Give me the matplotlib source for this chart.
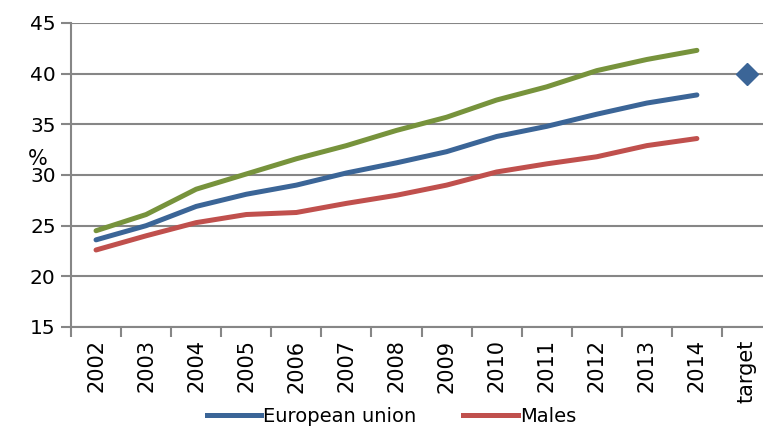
import matplotlib
matplotlib.use("Agg")
import matplotlib.pyplot as plt
import numpy as np
from matplotlib.lines import Line2D

# category labels on the x axis
years = ["2002", "2003", "2004", "2005", "2006", "2007", "2008",
         "2009", "2010", "2011", "2012", "2013", "2014"]
categories = years + ["target"]

# series values (%)
eu = [23.6, 25.0, 26.9, 28.1, 29.0, 30.2, 31.2, 32.3, 33.8, 34.8, 36.0, 37.1, 37.9]
males = [22.6, 24.0, 25.3, 26.1, 26.3, 27.2, 28.0, 29.0, 30.3, 31.1, 31.8, 32.9, 33.6]
females = [24.5, 26.1, 28.6, 30.1, 31.6, 32.9, 34.4, 35.7, 37.4, 38.7, 40.3, 41.4, 42.3]
target = 40

blue = "#3b6597"
red = "#c0504d"
green = "#77933c"
grey = "#868686"

plt.rcParams['font.family'] = ['DejaVu Sans']

fig = plt.figure(figsize=(7.63, 4.30), dpi=100)
ax = fig.add_axes([71 / 763, 1 - 327 / 430, (772 - 71) / 763, (327 - 23) / 430])

x = np.arange(len(years))
ax.plot(x, females, color=green, lw=3.6, solid_capstyle='round', zorder=3)
ax.plot(x, eu, color=blue, lw=3.6, solid_capstyle='round', zorder=3)
ax.plot(x, males, color=red, lw=3.6, solid_capstyle='round', zorder=3)
ax.plot([len(years)], [target], marker='D', color=blue, markersize=11, ls='none', zorder=4)

ax.set_xlim(-0.5, len(categories) - 0.5)
ax.set_ylim(15, 45)
ax.set_yticks(range(15, 46, 5))
ax.set_xticks(np.arange(len(categories)))
ax.set_xticklabels(categories, rotation=90, fontsize=15)
ax.set_xticks(np.arange(len(categories) + 1) - 0.5, minor=True)
ax.tick_params(axis='x', which='major', length=0, pad=9)
ax.tick_params(axis='x', which='minor', length=7, width=1.5, color=grey, direction='out')
ax.tick_params(axis='y', length=7, width=1.5, color=grey, labelsize=14.5, pad=4)

ax.grid(axis='y', color=grey, lw=1.5, zorder=0)
ax.set_axisbelow(True)
for s in ['top', 'right']:
    ax.spines[s].set_visible(False)
for s in ['left', 'bottom']:
    ax.spines[s].set_color(grey)
    ax.spines[s].set_linewidth(1.5)

ax.set_ylabel('%', rotation=0, fontsize=15)
ax.yaxis.set_label_coords(-0.048, 0.52)

# only the first legend row is visible in the reference
handles = [Line2D([], [], color=blue, lw=3.6, label='European union'),
           Line2D([], [], color=red, lw=3.6, label='Males')]
fig.legend(handles=handles, loc='upper center', bbox_to_anchor=(0.513, 0.072),
           ncol=2, frameon=False, fontsize=14, handlelength=2.8,
           columnspacing=2.4, handletextpad=0.1, borderaxespad=0)

fig.savefig('out.png', dpi=100)
